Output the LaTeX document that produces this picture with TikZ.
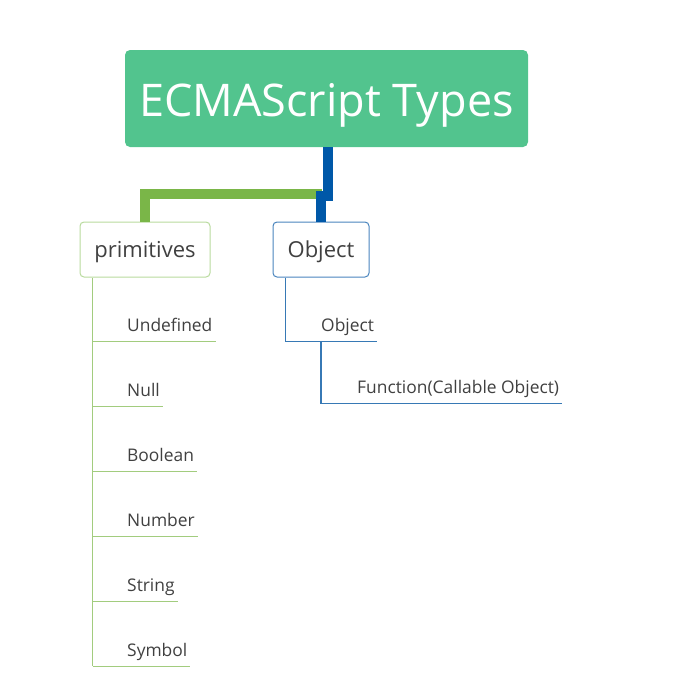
\documentclass[tikz,border=0pt]{standalone}
\usepackage{fontspec}
\setmainfont{Open Sans}
\usepackage{tikz}
\definecolor{titlegreen}{HTML}{52C48E}
\definecolor{branchgreen}{HTML}{7AB648}
\definecolor{leafgreen}{HTML}{A2CC7E}
\definecolor{boxgreen}{HTML}{B9DB9E}
\definecolor{branchblue}{HTML}{0058A8}
\definecolor{leafblue}{HTML}{3779B5}
\definecolor{boxblue}{HTML}{4A85BE}
\definecolor{txtgray}{HTML}{404040}
\tikzset{title box/.style={fill=titlegreen, rounded corners=5pt, text=white, font=\fontsize{45}{50}\selectfont, text height=35.4pt, text depth=0pt, minimum width=403pt, minimum height=97pt}}
\tikzset{type box/.style={fill=white, rounded corners=4pt, line width=1pt, text=txtgray, font=\fontsize{22}{26}\selectfont, text height=16pt, text depth=0pt, minimum height=55pt}}
\tikzset{leaf/.style={anchor=base west, text=txtgray, font=\fontsize{17.4}{20}\selectfont, inner xsep=3pt, inner ysep=10pt, text depth=0pt}}
\tikzset{thick branch/.style={line width=9.5pt, line join=miter}}

\begin{document}
\begin{tikzpicture}[x=1pt, y=-1pt]
\useasboundingbox (0,0) rectangle (685,691);
% boxes
\node[title box] (title) at (326.5,98.5) {ECMAScript Types};
\node[type box, draw=boxgreen, minimum width=130pt] (prim) at (145,249.5) {primitives};
\node[type box, draw=boxblue, minimum width=96pt] (obj) at (321,249.5) {Object};
% thick branches
\coordinate (fork) at (322,194);
\draw[thick branch, branchgreen] (fork) -| (prim.north);
\draw[thick branch, branchblue] ([xshift=1.5pt]title.south) -- ++(0,49) -| (obj.north);
% primitives
\node[leaf] (u1) at (124,331) {Undefined};
\node[leaf] (u2) at (124,396) {Null};
\node[leaf] (u3) at (124,461) {Boolean};
\node[leaf] (u4) at (124,526) {Number};
\node[leaf] (u5) at (124,591) {String};
\node[leaf] (u6) at (124,656) {Symbol};
\coordinate (ptrunk) at ([xshift=13pt]prim.south west);
\draw[leafgreen, line width=1.3pt] (ptrunk) -- (ptrunk |- u6.south);
\foreach \k in {1,...,6}
  \draw[leafgreen, line width=1.3pt] (ptrunk |- u\k.south) -- (u\k.south east);
% objects
\node[leaf] (o1) at (318,331) {Object};
\node[leaf] (o2) at (354,393) {Function(Callable Object)};
\coordinate (otrunk) at ([xshift=13pt]obj.south west);
\coordinate (otrunk2) at ([xshift=3pt]o1.south west);
\draw[leafblue, line width=1.3pt] (otrunk) |- (o1.south east);
\draw[leafblue, line width=1.3pt] (otrunk2) |- (o2.south east);
\end{tikzpicture}
\end{document}
